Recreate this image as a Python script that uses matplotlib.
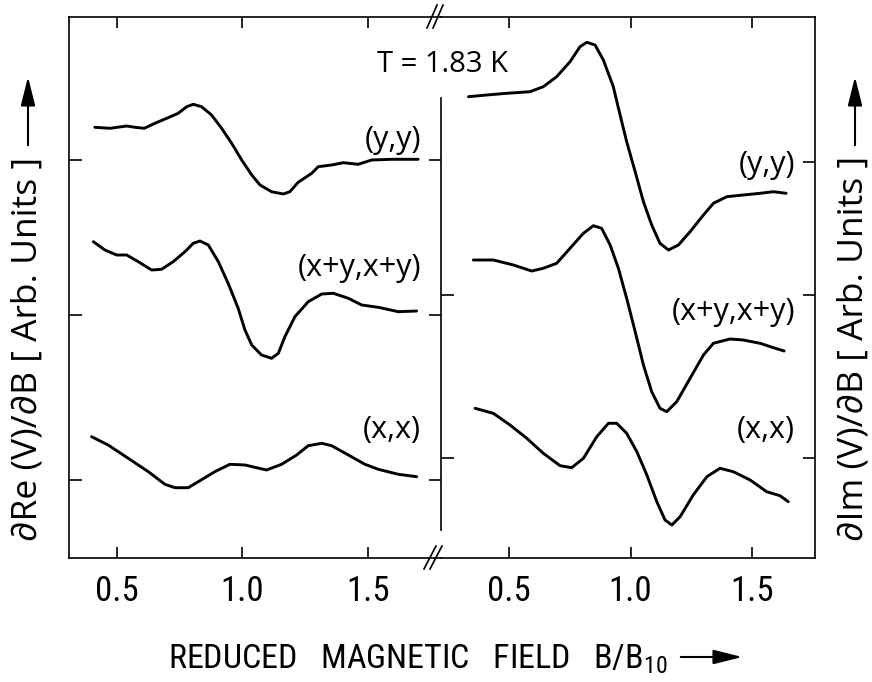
import matplotlib
matplotlib.use('Agg')
import matplotlib.pyplot as plt
from matplotlib import font_manager
from matplotlib.lines import Line2D
from matplotlib.patches import FancyArrowPatch

# Values: x = B/B10, y = arbitrary units (0 = bottom of frame)
re_yy_x = [0.412, 0.472, 0.539, 0.572, 0.609, 0.651, 0.704, 0.744, 0.778, 0.804, 0.837,
           0.877, 0.917, 0.957, 0.997, 1.037, 1.070, 1.116, 1.163, 1.189, 1.222, 1.276,
           1.302, 1.355, 1.402, 1.461, 1.515, 1.594, 1.700]
re_yy = [430.7, 429.7, 432.0, 430.7, 429.7, 434.7, 440.3, 444.7, 451.3, 453.7, 451.3,
         443.0, 429.7, 414.7, 398.0, 383.0, 373.0, 366.3, 364.0, 366.3, 375.7, 384.7,
         391.3, 393.0, 395.3, 393.7, 398.0, 398.7, 398.7]

re_xy_x = [0.406, 0.452, 0.499, 0.539, 0.585, 0.638, 0.678, 0.724, 0.771, 0.804, 0.831,
           0.864, 0.904, 0.943, 0.983, 1.010, 1.037, 1.076, 1.116, 1.143, 1.169, 1.209,
           1.262, 1.316, 1.362, 1.422, 1.475, 1.541, 1.621, 1.694]
re_xy = [316.3, 308.0, 303.0, 303.0, 296.3, 288.0, 288.7, 296.3, 306.3, 314.7, 317.0,
         313.0, 296.3, 274.7, 249.7, 228.0, 213.0, 203.0, 199.7, 204.7, 221.3, 241.3,
         256.3, 264.0, 264.7, 259.7, 253.0, 250.7, 246.3, 247.0]

re_xx_x = [0.399, 0.465, 0.545, 0.625, 0.691, 0.731, 0.784, 0.824, 0.890, 0.950, 1.010,
           1.096, 1.156, 1.216, 1.262, 1.316, 1.355, 1.422, 1.488, 1.541, 1.621, 1.694]
re_xx = [121.3, 113.0, 99.7, 86.3, 73.7, 70.3, 70.3, 76.3, 86.3, 93.7, 93.0,
         88.0, 93.7, 103.0, 112.3, 114.7, 112.3, 103.0, 93.7, 88.7, 83.7, 81.3]

im_yy_x = [0.333, 0.408, 0.491, 0.586, 0.641, 0.696, 0.751, 0.792, 0.820, 0.854, 0.888,
           0.929, 0.957, 0.984, 1.019, 1.053, 1.087, 1.121, 1.156, 1.197, 1.245, 1.300,
           1.341, 1.396, 1.464, 1.533, 1.588, 1.640]
im_yy = [461.3, 463.0, 464.7, 466.3, 471.3, 481.3, 496.3, 511.3, 515.7, 513.0, 498.0,
         471.3, 443.0, 416.3, 386.3, 356.3, 333.0, 314.7, 308.0, 313.0, 326.3, 343.0,
         354.7, 361.3, 363.0, 364.7, 366.3, 364.7]

im_xy_x = [0.353, 0.435, 0.518, 0.593, 0.641, 0.696, 0.751, 0.806, 0.847, 0.881, 0.916,
           0.950, 0.984, 1.019, 1.053, 1.087, 1.121, 1.149, 1.190, 1.245, 1.300, 1.341,
           1.409, 1.464, 1.533, 1.588, 1.632]
im_xy = [298.0, 298.0, 293.0, 287.0, 289.7, 294.7, 309.7, 324.7, 332.3, 329.7, 313.0,
         289.7, 259.7, 226.3, 193.0, 166.3, 149.7, 146.3, 156.3, 179.7, 203.0, 214.7,
         219.0, 218.0, 214.7, 210.3, 207.0]

im_xx_x = [0.360, 0.435, 0.504, 0.573, 0.641, 0.710, 0.758, 0.806, 0.861, 0.909, 0.943,
           0.984, 1.026, 1.067, 1.108, 1.142, 1.170, 1.204, 1.258, 1.314, 1.368, 1.423,
           1.492, 1.560, 1.615, 1.649]
im_xx = [149.7, 144.7, 133.0, 119.7, 104.7, 92.3, 90.3, 99.7, 121.3, 134.7, 134.7,
         124.7, 106.3, 83.0, 56.3, 38.0, 33.0, 41.3, 63.0, 81.3, 89.7, 86.3,
         78.0, 66.3, 62.3, 56.3]

xticks = [0.5, 1.0, 1.5]
xticklabels = ['0.5', '1.0', '1.5']
re_yticks = [398, 243, 78]
im_yticks = [396, 263, 100]
im_inner_yticks = [263, 100]
labels = ['(y,y)', '(x+y,x+y)', '(x,x)']

names = {f.name for f in font_manager.fontManager.ttflist}
narrow = [f for f in ['Liberation Sans Narrow', 'Roboto Condensed', 'Liberation Sans'] if f in names]
wide = [f for f in ['Open Sans', 'Liberation Sans'] if f in names]
plt.rcParams['font.family'] = narrow + ['DejaVu Sans']
plt.rcParams['mathtext.fontset'] = 'custom'
plt.rcParams['mathtext.rm'] = narrow[0] if narrow else 'DejaVu Sans'
wide_fam = wide + ['DejaVu Sans']

fig = plt.figure(figsize=(8.72, 6.82), dpi=100)
W, H = 872, 682

def fx(px):
    return px / W

def fy(py):
    return 1 - py / H

ax1 = fig.add_axes([fx(69), fy(558), fx(441) - fx(69), fy(17) - fy(558)])
ax2 = fig.add_axes([fx(441), fy(558), fx(815) - fx(441), fy(17) - fy(558)])

lw_frame = 1.2
lw = 2.1
ax1.set_xlim(0.309, 1.791)
ax2.set_xlim(0.220, 1.759)
for ax in (ax1, ax2):
    ax.set_ylim(0, 541)
    ax.patch.set_alpha(0)
    for s in ax.spines.values():
        s.set_linewidth(lw_frame)
    ax.set_xticks(xticks)
    ax.set_xticklabels(xticklabels)
    ax.tick_params(axis='x', direction='in', top=True, bottom=True, length=8,
                   width=lw_frame, labelsize=25, pad=12)

ax1.spines['right'].set_bounds(28, 460)
ax1.set_yticks(re_yticks)
ax1.tick_params(axis='y', direction='in', left=True, right=True, length=9,
                width=lw_frame, labelleft=False)

ax2.spines['left'].set_visible(False)
ax2.set_yticks(im_yticks)
ax2.tick_params(axis='y', direction='in', left=False, right=True, length=9,
                width=lw_frame, labelleft=False, labelright=False)
sec = ax2.secondary_yaxis('left')
sec.set_yticks(im_inner_yticks)
sec.tick_params(direction='in', length=9, width=lw_frame, labelleft=False)
sec.spines['left'].set_visible(False)

style = dict(color='k', lw=lw, solid_joinstyle='round', solid_capstyle='round')
ax1.plot(re_yy_x, re_yy, **style)
ax1.plot(re_xy_x, re_xy, **style)
ax1.plot(re_xx_x, re_xx, **style)
ax2.plot(im_yy_x, im_yy, **style)
ax2.plot(im_xy_x, im_xy, **style)
ax2.plot(im_xx_x, im_xx, **style)

for ax, xr, ys in ((ax1, 1.711, [418, 290, 128]), (ax2, 1.677, [393, 246, 128])):
    for lab, yv in zip(labels, ys):
        ax.text(xr, yv, lab, ha='right', va='center', fontsize=22, family=wide_fam)

fig.text(fx(442), fy(64), 'T = 1.83 K', ha='center', va='center', fontsize=21,
         family=wide_fam)

# axis break marks
for (xa, ya, xb, yb) in [(427, 28, 437, 5), (433, 28, 443, 5),
                         (424, 569, 436, 546), (430, 569, 442, 546)]:
    fig.add_artist(Line2D([fx(xa), fx(xb)], [fy(ya), fy(yb)], color='k', lw=1.2,
                          transform=fig.transFigure))

# axis labels with arrows
fig.text(fx(28), fy(541), '\u2202Re (V)/\u2202B [ Arb. Units ]', rotation=90,
         ha='center', va='bottom', fontsize=25.5, family=wide_fam)
fig.text(fx(853), fy(541), '\u2202Im (V)/\u2202B [ Arb. Units ]', rotation=90,
         ha='center', va='bottom', fontsize=25.5, family=wide_fam)
arrow = dict(arrowstyle='-|>,head_length=0.8,head_width=0.2', color='k', lw=1.5,
             mutation_scale=22)
fig.add_artist(FancyArrowPatch((fx(28), fy(148)), (fx(28), fy(74)),
               transform=fig.transFigure, **arrow))
fig.add_artist(FancyArrowPatch((fx(855), fy(148)), (fx(855), fy(74)),
               transform=fig.transFigure, **arrow))
fig.text(fx(168), fy(668), r'REDUCED   MAGNETIC   FIELD   B/B$_{\mathrm{10}}$', ha='left',
         va='baseline', fontsize=24.5)
fig.add_artist(FancyArrowPatch((fx(678), fy(657)), (fx(745), fy(657)),
               transform=fig.transFigure, **arrow))

fig.savefig('out.png', dpi=100)
